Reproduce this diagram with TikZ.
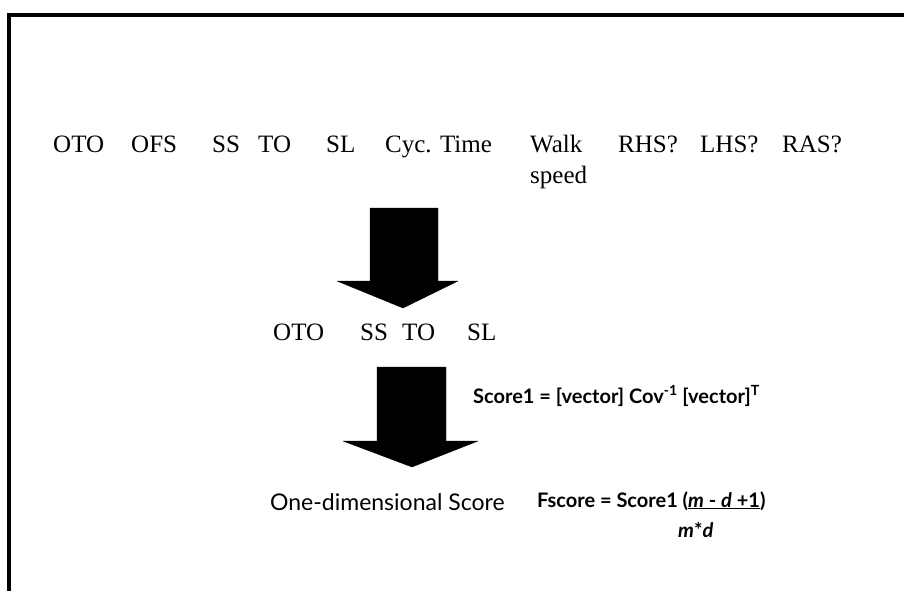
\documentclass[tikz,border=0pt]{standalone}
\usepackage{fontspec}
\setmainfont{Liberation Serif}
\newfontfamily\optfont{Lato}
\begin{document}
\begin{tikzpicture}[x=1pt,y=-1pt,
  lbl/.style={anchor=base west,inner sep=0pt,font=\fontsize{25}{28}\selectfont},
  sansbig/.style={anchor=base west,inner sep=0pt,font=\optfont\fontsize{23}{26}\selectfont},
  formula/.style={anchor=base west,inner sep=0pt,font=\optfont\bfseries\fontsize{20}{23}\selectfont},
  bigarrow/.style={fill=black,draw=black,line join=round}]
\useasboundingbox (0,0) rectangle (904,591);
\fill[white] (0,0) rectangle (904,591);
% frame
\draw[line width=4pt] (904,15) -- (9,15) -- (9,591);
% top row
\node[lbl] (oto1) at (53,152) {OTO};
\node[lbl] (ofs) at (131,152) {OFS};
\node[lbl] (ss1) at (212,152) {SS};
\node[lbl] (to1) at (258,152) {TO};
\node[lbl] (sl1) at (326,152) {SL};
\node[lbl] (cyc) at (385,152) {Cyc. Time};
\node[lbl] (walk) at (530,152) {Walk};
\node[lbl] (speed) at (530,183) {speed};
\node[lbl] (rhs) at (618,152) {RHS?};
\node[lbl] (lhs) at (700,152) {LHS?};
\node[lbl] (ras) at (782,152) {RAS?};
% arrow 1
\draw[bigarrow] (370,208) -- (438,208) -- (438,281) -- (458,281) -- (403,308) -- (337,281) -- (370,281) -- cycle;
% second row
\node[lbl] (oto2) at (273,340) {OTO};
\node[lbl] (ss2) at (360,340) {SS};
\node[lbl] (to2) at (402,340) {TO};
\node[lbl] (sl2) at (467,340) {SL};
% arrow 2
\draw[bigarrow] (377,367) -- (446,367) -- (446,441) -- (478,441) -- (412,467) -- (343,441) -- (377,441) -- cycle;
% formula 1
\node[formula] (score1) at (473,403) {Score1 = [vector] Cov\textsuperscript{-1} [vector]\textsuperscript{T}};
% bottom
\node[sansbig] (onedim) at (270,510) {One-dimensional Score};
\node[formula] (fscore) at (537,507) {Fscore = Score1 (\underline{\textit{m} - \textit{d} +1})};
\node[formula] (md) at (678,537) {\textit{m}*\textit{d}};
\end{tikzpicture}
\end{document}
